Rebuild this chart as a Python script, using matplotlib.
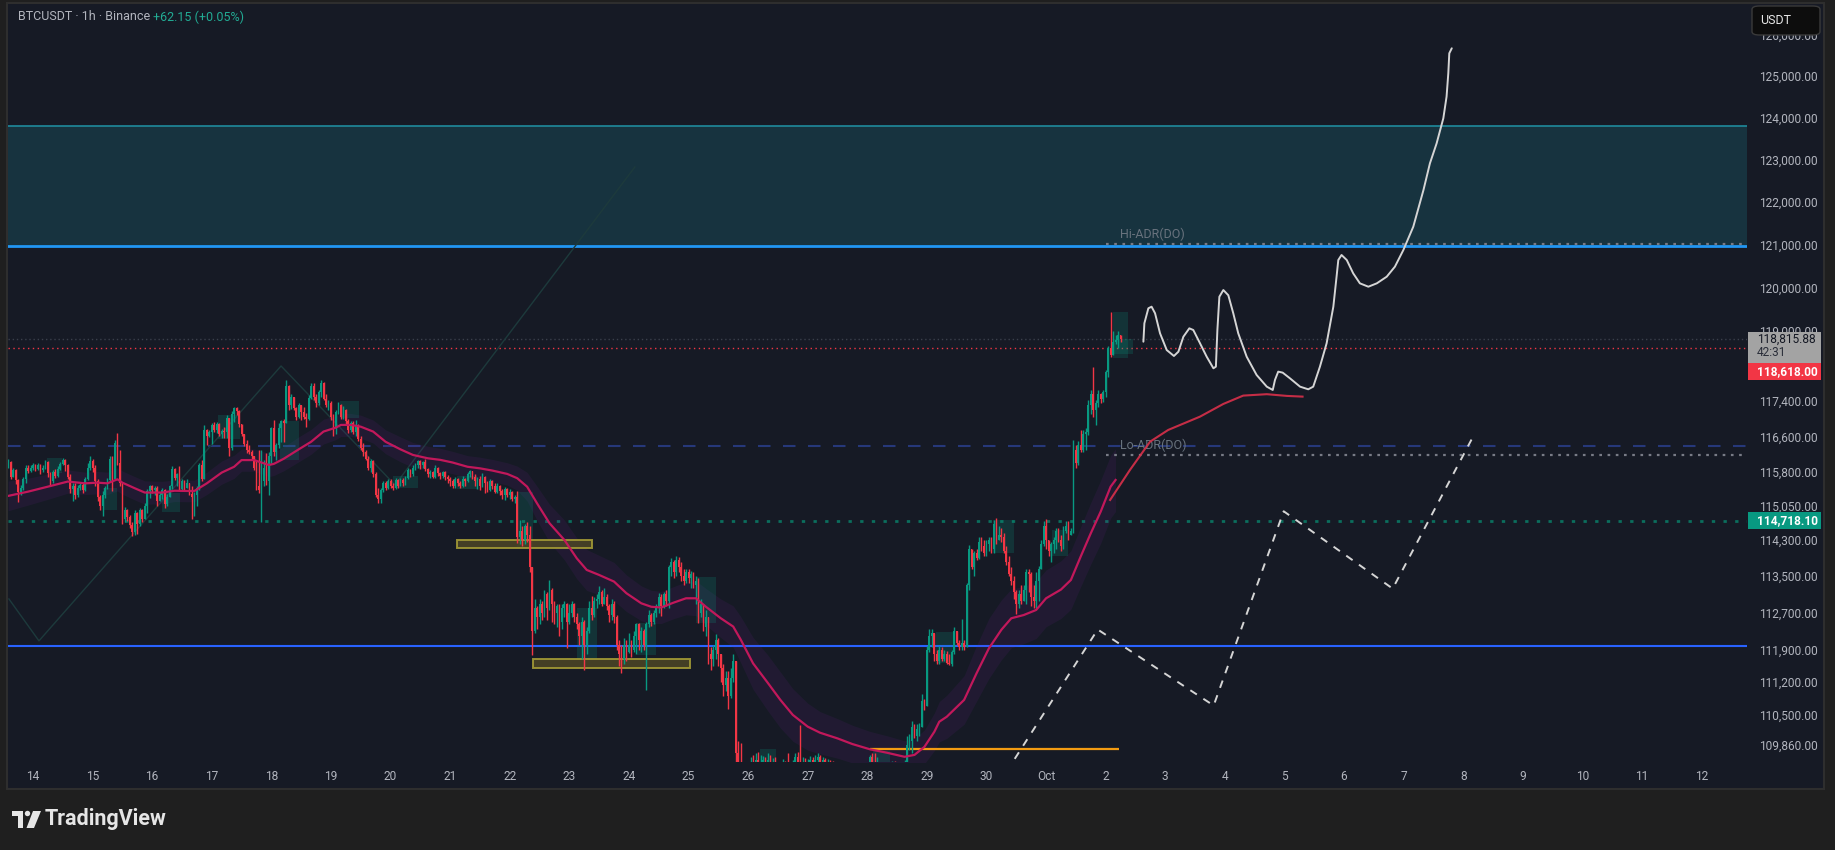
import numpy as np
import matplotlib
matplotlib.use('Agg')
import matplotlib.pyplot as plt
from matplotlib.patches import Rectangle, Polygon, Ellipse, FancyBboxPatch
from matplotlib.ticker import NullLocator

plt.rcParams['font.family'] = ['Roboto', 'DejaVu Sans']

# ---------------- data (hourly candles, hour 0 = Sep 14 00:00 UTC) ----------------
first_hour = -10
first_open = 115920
close = [
 116020,115700,115850,115620,115350,115450,115650,115900,115820,115900,
 115960,115870,115950,115840,115900,116020,115780,115600,115800,115720,115880,115980,116080,115950,115700,115420,115500,115300,115450,115520,115400,115650,115900,116050,
 115900,115600,115250,115050,115300,115450,115620,116100,115650,116450,116000,115550,114750,114950,114800,114620,114480,114900,114650,114950,114750,115050,115380,115480,
 115400,115450,115150,115300,115400,115100,115250,115500,115880,115680,115750,115420,115600,115450,115550,115320,115250,115300,115450,115950,115650,116750,116600,116700,
 116850,116750,116880,116650,116720,116700,117020,116350,117100,117250,117180,116880,116650,116420,116300,116250,116150,115900,115500,115400,115600,115900,115600,116150,
 116800,116250,116400,116800,116950,116900,117750,117300,117500,117250,117050,117300,117150,117050,117000,117480,117750,117500,117350,117600,117820,117450,117300,117350,
 117050,116800,117150,117300,117050,117200,116950,116750,116900,116700,116850,116550,116350,116250,116100,115900,116050,115750,115300,115200,115400,115550,115450,115600,
 115500,115450,115620,115500,115620,115550,115680,115850,115750,115900,115960,116050,115950,116020,115880,115750,115800,115700,115900,115780,115720,115800,115700,115650,
 115600,115500,115640,115550,115500,115650,115600,115750,115820,115700,115600,115650,115500,115700,115550,115400,115600,115500,115350,115500,115380,115280,115420,115300,
 115350,115200,115250,114350,114500,114300,114600,114400,113700,112300,112800,112600,112900,112700,113100,112800,113200,112900,112700,112850,112500,112800,112900,112500,
 112700,112900,112600,112450,112200,112500,112000,112300,112800,112650,112950,113000,113150,112900,113050,112850,112650,112900,112600,112000,111800,111700,112000,111850,
 112000,111900,112200,112450,112100,112300,112000,112450,112650,112500,112700,112850,113050,112850,113100,112950,113700,113800,113600,113850,113700,113500,113400,113600,
 113450,113550,113300,113400,112700,112900,112400,112600,111800,111700,111900,112100,111800,111500,111150,111300,110900,111300,111650,109700,109500,109200,109000,109100,
 109300,109450,109350,109550,109300,109450,109550,109400,109550,109450,109500,109350,109300,109400,109450,109300,109200,109350,109450,109600,109400,109300,109450,109400,
 109500,109550,109450,109550,109600,109500,109550,109450,109500,109400,109350,109300,109250,109300,109200,109250,109300,109250,109200,109300,109350,109300,109250,109350,
 109400,109600,109500,109350,109450,109400,109350,109300,109350,109400,109450,109400,109350,109400,109450,109500,109850,109950,110250,110050,110200,110250,110800,110700,
 111900,112200,112250,111800,111650,111900,111700,111800,111620,111600,111850,112300,112050,111950,112050,111950,113300,114100,113700,114000,113900,114250,114150,114000,
 114200,114300,114100,114650,114300,114400,114350,114050,113800,113550,113400,113150,112900,113100,112950,113200,113600,113550,113050,112950,113400,113650,114200,114600,
 114300,114050,114200,114300,114500,114300,114150,114500,114600,114400,114500,116300,116000,116400,116300,116650,116700,117300,117550,117200,117350,117550,117450,117600,
 118050,118600,118450,118750,118800,118900,118816]
high = [
 116100,116050,115900,115880,115650,115520,115700,115950,115960,115950,
 116000,115990,116000,115980,115960,116080,116050,115800,115850,115880,115930,116020,116120,116100,115980,115760,115560,115560,115520,115560,115560,115700,116000,116150,
 116100,115950,115650,115300,115380,115500,115680,116150,116150,116520,116680,116300,115550,115020,114990,114850,114700,114960,114920,115000,114980,115120,115420,115520,
 115520,115500,115480,115350,115450,115420,115310,115520,115930,115900,115790,115930,115640,115630,115640,115560,115480,115350,115480,116000,116080,116860,116760,116750,
 116900,116930,116930,116900,116760,116820,117080,116750,117180,117270,117270,117200,116880,116660,116520,116410,116300,116150,116080,116300,116300,116080,116220,116260,
 116820,116970,116450,116900,116970,117000,117880,117770,117570,117500,117270,117350,117300,117270,117120,117540,117800,117800,117570,117650,117880,117840,117570,117420,
 117400,117100,117200,117380,117330,117280,117220,117000,116950,116940,116980,116880,116600,116450,116300,116150,116100,116080,115800,115450,115450,115600,115600,115650,
 115640,115560,115660,115640,115680,115660,115720,115900,115880,115950,116000,116080,116080,116060,116100,115900,115840,115820,115950,115920,115800,115820,115820,115740,
 115700,115650,115700,115680,115600,115720,115680,115800,115850,115830,115760,115700,115720,115780,115720,115600,115650,115620,115550,115560,115520,115420,115470,115450,
 115420,115380,115300,115370,114740,114600,114650,114700,114600,113680,112990,112850,113000,112950,113200,113150,113420,113250,112950,112900,112900,112900,112950,112920,
 112900,112950,112920,112700,112500,112600,112550,112400,112950,113060,113050,113100,113280,113200,113250,113100,112900,112990,112950,112650,112100,112000,112150,112100,
 112250,112100,112300,112480,112480,112400,112350,112500,112770,112700,112750,112900,113130,113100,113150,113200,113750,113900,113850,113935,113920,113800,113650,113650,
 113650,113620,113600,113500,113450,113000,112900,112750,112050,111950,112000,112230,112150,111690,111600,111450,111450,111500,111800,111650,109950,109900,109500,109300,
 109450,109600,109650,109700,109720,109650,109620,109600,109700,109650,109580,109600,109500,109480,109560,109520,109700,109450,109550,109700,109720,110290,109600,109580,
 109560,109620,109600,109650,109680,109640,109600,109580,109560,109540,109520,109450,109400,109380,109350,109400,109420,109380,109350,109400,109450,109420,109400,109450,
 109500,109650,109700,109700,109600,109480,109450,109420,109450,109480,109520,109530,109450,109480,109500,109550,110060,110100,110360,110300,110300,110330,110940,110830,
 111978,112340,112340,112000,111900,111978,111950,111900,111880,111800,111900,112400,112250,112100,112560,112100,113350,114190,114100,114050,114100,114370,114370,114300,
 114300,114350,114350,114745,114780,114600,114550,114450,114150,113950,113700,113500,113200,113200,113300,113300,113650,113650,113600,113300,113580,113720,114300,114705,
 114750,114300,114250,114350,114550,114550,114400,114600,114705,114705,114550,116520,116400,116500,116750,116750,116780,117430,117640,118180,117430,117640,117580,117640,
 118100,118650,119435,119000,118900,119000,118900]
low = [
 115900,115640,115690,115540,115130,115280,115400,115550,115780,115800,
 115850,115820,115840,115760,115800,115860,115700,115480,115560,115680,115700,115850,115950,115820,115650,115330,115150,115200,115250,115400,115330,115380,115620,115850,
 115800,115500,115150,114950,114820,115230,115420,115580,115380,115950,115950,115480,114640,114700,114720,114560,114390,114400,114420,114600,114680,114780,114900,115220,
 115330,115280,115050,115170,115200,115000,115050,115240,115420,115620,115500,115380,115400,115380,115450,115280,114750,114830,115040,115400,115600,115650,116400,116580,
 116420,116700,116670,116600,116560,116560,116560,116150,116300,116930,117080,116820,116600,116380,116220,116200,116100,115850,115400,115330,114680,115480,115520,115300,
 116000,116150,116080,116330,116480,116480,116900,117200,117230,117200,116970,117020,116970,117000,116820,116980,117450,117420,117270,117320,117500,117420,117270,117200,
 116970,116600,116650,117100,117000,117000,116850,116680,116700,116650,116600,116490,116300,116150,116080,115850,115800,115700,115250,115110,115120,115350,115400,115420,
 115450,115400,115420,115450,115480,115500,115520,115650,115700,115720,115850,115900,115880,115900,115820,115700,115680,115660,115680,115720,115650,115680,115620,115560,
 115500,115450,115450,115480,115450,115470,115500,115580,115700,115640,115500,115420,115400,115460,115330,115350,115380,115420,115330,115330,115300,115200,115190,115250,
 115200,115150,115120,114230,114200,114150,114200,114250,113600,111790,112250,112350,112450,112550,112600,112550,112750,112500,112450,112400,112200,112350,112600,111940,
 112450,112600,112500,112350,112000,111700,111470,111800,112250,112550,112600,112800,112900,112850,112900,112770,112500,112550,112480,111900,111550,111400,111600,111650,
 111830,111750,111850,111800,111900,111850,111900,111040,112400,112420,112450,112600,112700,112620,112800,112850,112800,113500,113450,113500,113600,113400,113300,113350,
 113350,113250,113250,112900,112480,112600,112300,112190,111600,111470,111550,111700,111540,111200,110900,111000,110620,110860,111200,109300,109100,108900,108700,108800,
 109000,109100,109200,109250,109150,109250,109300,109300,109350,109300,109350,109250,109150,109200,109300,109150,109100,109100,109250,109350,109300,109200,109250,109300,
 109350,109400,109380,109400,109450,109420,109400,109380,109400,109300,109250,109200,109150,109150,109100,109150,109200,109150,109100,109150,109200,109200,109150,109200,
 109250,109350,109400,109250,109300,109300,109250,109200,109250,109300,109300,109300,109250,109300,109350,109380,109450,109750,109700,110000,109950,110050,110250,110600,
 110700,111850,111950,111650,111580,111600,111650,111650,111580,111560,111550,111800,112000,111900,111900,111900,111950,113200,113650,113500,113850,113880,114050,113950,
 113950,114050,114000,114000,114200,114300,114250,114000,113750,113500,113300,113000,112670,112800,112900,112950,112900,113150,112850,112800,112800,112950,113700,114150,
 114100,113950,113800,114000,114100,114250,114050,114100,114450,114300,114400,114450,115890,115950,116250,116250,116300,116640,117100,117050,116850,117270,117350,117380,
 117500,117950,118400,118550,118700,118600,118750]

# moving average and its band half-width
ma_hours = [-10,-2,7,14,21,26,30,34,36,41,45,52,57,62,65,70,76,81,84,89,95,97,101,107,112,117,122,124,128,132,
            137,142,148,153,159,164,169,175,180,185,191,195,199,203,208,214,219,223,228,234,239,245,249,253,258,263,267,271,277,282,
            285,290,296,301,306,312,317,324,330,337,344,351,355,359,363,365,368,375,380,385,390,394,399,404,408,414,418,422,426,430,434,436]
ma_vals = [115270,115365,115490,115590,115550,115565,115550,115640,115565,115440,115345,115345,115385,115380,115380,115550,115790,115920,116070,116070,
           115960,115985,116100,116310,116480,116710,116800,116860,116860,116820,116710,116480,116310,116185,116110,116075,116015,115920,115885,115835,
           115760,115665,115475,115105,114665,114295,113890,113635,113525,113380,113125,112905,112830,112815,112920,113015,113015,112830,112580,112400,
           112120,111605,111180,110820,110500,110250,110120,110000,109880,109770,109695,109610,109650,109820,110140,110355,110460,110820,111390,111930,
           112330,112580,112650,112760,113015,113205,113415,113935,114440,114920,115475,115625]
ma_band = [330,300,280,260,250,250,250,260,260,260,260,250,240,240,240,250,260,260,250,250,
           260,260,270,280,280,280,270,260,260,260,260,270,280,280,270,260,250,250,250,250,
           250,270,320,380,420,440,450,450,430,420,400,380,360,350,350,360,380,400,420,450,
           500,560,600,600,560,500,450,420,400,380,360,340,340,360,400,430,460,520,600,650,
           650,640,620,620,620,630,640,660,680,700,700,700]

# projected average line
proj_hours = [433.8,441.8,449.9,457.2,470.0,479.4,487.4,496.9,505.0,511.3]
proj_vals = [115180,115850,116483,116747,117047,117334,117523,117555,117516,117500]

# hand-drawn scenario curve (white)
curve_h = [447.2,447.6,449.2,450.5,451.9,453.9,456.6,459.5,461.3,463.3,465.7,467.3,470.0,472.7,475.4,476.4,477.0,477.8,479.4,481.4,
           483.4,485.4,488.8,492.8,496.9,499.3,500.2,501.5,503.3,506.2,510.3,513.6,515.6,518.3,521.0,523.7,525.0,525.7,527.0,529.1,
           531.7,534.4,537.8,541.2,545.2,548.5,551.9,555.9,560.0,562.6,565.3,568.0,569.3,570.0,570.4,571.4]
curve_p = [118752,119175,119520,119557,119405,118945,118561,118425,118523,118866,119059,119020,118716,118408,118144,118181,119020,119787,119942,119822,
           119405,118945,118408,117992,117726,117651,117879,118068,118045,117917,117726,117666,117726,118181,118716,119557,120251,120639,120756,120639,
           120329,120097,120019,120097,120251,120484,120872,121417,122280,122911,123386,123984,124502,125065,125549,125670]

# dashed zig-zag scenario
zig_h = [392.0,428.8,475.5,503.7,547.6,580.5]
zig_p = [109290,112336,110700,114929,113226,116652]

# faint trend lines
diag_h = [-9.7,2.4,99.9,145.8,242.4]
diag_p = [113000,112090,118197,115514,122824]

# levels
zone_lo, zone_hi = 120965, 123792
hi_adr, lo_adr = 121013, 116185
dash_level = 116392
teal_level = 114718.10
blue_level = 111980
last_price = 118815.88
red_level = 118618.00
orange_level, orange_h0, orange_h1 = 109766, 337.0, 437.4

# order-block boxes: (h0, h1, p_low, p_high)
ob_boxes = [(5.6,11.7,115783,116118),(28.2,33.8,114958,115450),(52.0,59.2,114913,115338),(74.5,83.4,116544,117085),
            (99.5,107.1,116073,116949),(123.6,131.3,117017,117400),(145.0,155.0,115450,115715),(170.8,178.8,115428,115715),
            (194.9,201.4,114119,115360),(219.0,227.0,111678,112801),(243.3,250.9,111786,112476),(267.0,275.0,112476,113481),
            (292.8,299.2,109300,109775),(338.3,345.2,109300,109733),(363.7,370.5,111613,112284),(386.6,395.0,114013,114737),
            (410.4,416.8,113949,114516),(435.0,441.0,118378,119435),(435.0,443.0,118480,118815)]
# yellow boxes
y_boxes = [(170.8,225.1,114119,114295),(201.2,264.8,111515,111700)]

price_ticks = [126000,125000,124000,123000,122000,121000,120000,119000,117400,116600,115800,115050,
               114300,113500,112700,111900,111200,110500,109860]
day_labels = ['14','15','16','17','18','19','20','21','22','23','24','25','26','27','28','29','30','Oct',
              '2','3','4','5','6','7','8','9','10','11','12']

# ---------------- figure ----------------
W, HP = 1835, 850
BG = '#161a25'
UP, DN = '#089981', '#f23645'
fig = plt.figure(figsize=(W/100, HP/100), dpi=100, facecolor='#1f1f1f')
fig.add_artist(Rectangle((7/W, 1-789/HP), (1824-7)/W, (789-3)/HP, transform=fig.transFigure,
                         facecolor=BG, edgecolor='#2e2e2e', lw=1.5, zorder=-10))

ax = fig.add_axes([8/W, 1-762/HP, (1747-8)/W, (762-4)/HP])
ax.set_facecolor(BG)
ax.set_yscale('log')
ax.set_xlim(-10.07, 690.3)
ax.set_ylim(109500, 126749)
for s in ax.spines.values():
    s.set_visible(False)

ax.set_yticks(price_ticks, [f'{v:,.2f}' for v in price_ticks])
ax.yaxis.set_minor_locator(NullLocator())
ax.yaxis.tick_right()
ax.tick_params(axis='y', length=0, pad=9, labelsize=8.6, labelcolor='#b2b5be')
ax.set_xticks([24*i for i in range(len(day_labels))], day_labels)
ax.tick_params(axis='x', length=0, pad=6, labelsize=8.6, labelcolor='#b2b5be')

# zone
ax.axhspan(zone_lo, zone_hi, facecolor='#17333f', edgecolor='none', zorder=1)
ax.axhline(zone_hi, color='#1f8a9c', lw=1.2, zorder=2)
ax.axhline(zone_lo, color='#2196f3', lw=2.0, zorder=2)

# horizontal levels
ax.axhline(dash_level, color='#26387a', lw=1.5, ls=(0, (6, 6)), zorder=2)
ax.axhline(teal_level, color='#0b6e5d', lw=2.0, ls=(0, (1.2, 3)), zorder=2)
ax.axhline(blue_level, color='#2962ff', lw=1.5, zorder=2)
ax.axhline(last_price, color='#3a3f4b', lw=1.0, ls=(0, (1, 2)), zorder=2)
ax.axhline(red_level, color=DN, lw=1.0, ls=(0, (1, 2.5)), zorder=2)
ax.hlines(orange_level, orange_h0, orange_h1, color='#f39c12', lw=1.6, zorder=3)
ax.hlines(hi_adr, 432, 690.3, color='#787b86', lw=1.6, ls=(0, (1.2, 2.5)), zorder=3)
ax.hlines(lo_adr, 432, 690.3, color='#787b86', lw=1.6, ls=(0, (1.2, 2.5)), zorder=3)
ax.annotate('Hi-ADR(DO)', xy=(437.8, hi_adr), xytext=(0, 2), textcoords='offset points',
            va='bottom', ha='left', fontsize=9, color='#68727d', zorder=4)
ax.annotate('Lo-ADR(DO)', xy=(437.8, lo_adr), xytext=(0, 2), textcoords='offset points',
            va='bottom', ha='left', fontsize=9, color='#68727d', zorder=4)

# faint trend line
ax.plot(diag_h, diag_p, color='#1d3a3c', lw=1.0, zorder=2)

# boxes
for h0, h1, lo, hi in ob_boxes:
    ax.add_patch(Rectangle((h0, lo), h1-h0, hi-lo, facecolor=UP, alpha=0.2, edgecolor='none', zorder=3))
for h0, h1, lo, hi in y_boxes:
    ax.add_patch(Rectangle((h0, lo), h1-h0, hi-lo, facecolor='#4a4426', edgecolor='#a39a35', lw=1.4, alpha=0.9, zorder=3))

# MA band + line
mh = np.array(ma_hours, float); mv = np.array(ma_vals, float); mb = np.array(ma_band, float)
ax.fill_between(mh, mv-mb, mv+mb, color='#7b1fa2', alpha=0.11, lw=0, zorder=2)
ax.plot(mh, mv, color='#c2185b', lw=1.6, zorder=6)
ax.plot(proj_hours, proj_vals, color='#d9304a', lw=1.5, alpha=0.9, zorder=6)

# candles
C = np.array(close, float); Hh = np.array(high, float); Ll = np.array(low, float)
n = min(len(C), len(Hh), len(Ll))
C, Hh, Ll = C[:n], Hh[:n], Ll[:n]
O = np.r_[first_open, C[:-1]]
hrs = np.arange(first_hour, first_hour+n)
Hh = np.maximum(Hh, np.maximum(O, C)); Ll = np.minimum(Ll, np.minimum(O, C))
cols = np.where(C >= O, UP, DN)
ax.vlines(hrs, Ll, Hh, colors=cols, lw=1.0, zorder=5)
bot = np.minimum(O, C); ht = np.maximum(np.abs(C-O), 12)
ax.bar(hrs, ht, bottom=bot, width=0.7, color=cols, lw=0, zorder=5)

# scenario drawings
ax.plot(curve_h, curve_p, color='#d5d5d5', lw=1.4, zorder=7, solid_capstyle='round')
ax.plot(zig_h, zig_p, color='#d5d5d5', lw=1.4, ls=(0, (4, 4)), zorder=7)

# ---------- price-scale labels ----------
def ypix(p):
    return ax.transData.transform((0, p))[1]

def scale_box(y0, y1, fc):
    fig.add_artist(Rectangle((1748/W, y0/HP), 73/W, (y1-y0)/HP, transform=fig.transFigure,
                             facecolor=fc, edgecolor='none', zorder=20))

yl = ypix(last_price)
scale_box(yl-24, yl+7, '#a3a3a3')
fig.text(1757/W, yl/HP, f'{last_price:,.2f}', color='#131722', fontsize=8.6, va='center', ha='left', zorder=21)
fig.text(1757/W, (yl-14)/HP, '42:31', color='#2a2e39', fontsize=8.6, va='center', ha='left', zorder=21)
scale_box(yl-41, yl-24, DN)
fig.text(1757/W, (yl-32.5)/HP, f'{red_level:,.2f}', color='white', fontsize=8.6, fontweight='bold',
         va='center', ha='left', zorder=21)
yt = ypix(teal_level)
scale_box(yt-8.5, yt+8.5, UP)
fig.text(1757/W, yt/HP, f'{teal_level:,.2f}', color='white', fontsize=8.6, fontweight='bold',
         va='center', ha='left', zorder=21)

# USDT button (covers the top of the 126,000 label, as in the original)
fig.add_artist(FancyBboxPatch((1752/W, 1-35/HP), 68/W, 29/HP, boxstyle='round,pad=0,rounding_size=0.004',
                              transform=fig.transFigure, facecolor='#0d0d0d', edgecolor='#3a3a3a', lw=1, zorder=22))
fig.text(1760/W, 1-20.5/HP, 'USDT', color='#e6e6e6', fontsize=9, va='center', ha='left', zorder=23)

# header
fig.text(18/W, 1-17/HP, 'BTCUSDT · 1h · Binance', color='#b2b5be', fontsize=9, va='center', ha='left')
fig.text(153/W, 1-17/HP, '+62.15 (+0.05%)', color='#22ab94', fontsize=9, va='center', ha='left')

# TradingView logo
def fxy(x, y):
    return (x/W, 1-y/HP)
fig.add_artist(Rectangle(fxy(12, 816), 11/W, 5/HP, transform=fig.transFigure, facecolor='#e6e6e6', lw=0))
fig.add_artist(Rectangle(fxy(17.5, 828), 5.5/W, 12/HP, transform=fig.transFigure, facecolor='#e6e6e6', lw=0))
fig.add_artist(Ellipse(fxy(27.5, 813.5), 5.4/W, 5.4/HP, transform=fig.transFigure, facecolor='#e6e6e6', lw=0))
fig.add_artist(Polygon([fxy(33, 811), fxy(41, 811), fxy(34, 828), fxy(26.5, 828)], closed=True,
                       transform=fig.transFigure, facecolor='#e6e6e6', lw=0))
fig.text(45/W, 1-819.5/HP, 'TradingView', color='#e6e6e6', fontsize=15.5, fontweight='bold', va='center', ha='left')

fig.savefig('out.png', dpi=100, facecolor=fig.get_facecolor())
